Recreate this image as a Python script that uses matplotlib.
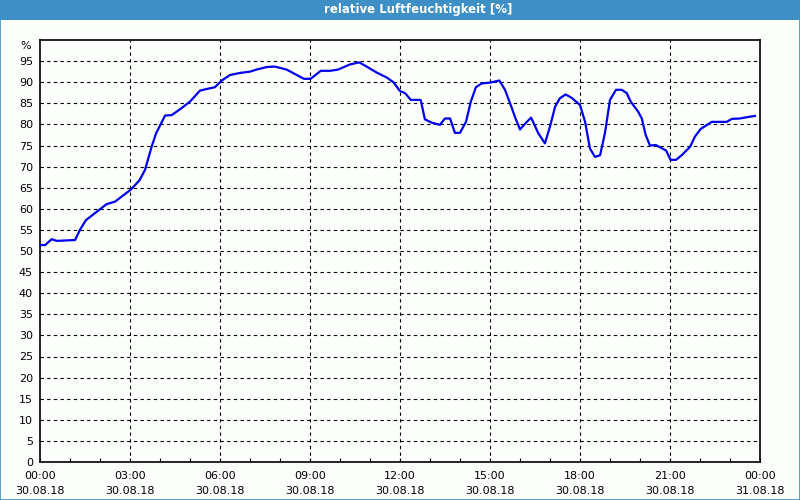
import matplotlib
matplotlib.use("Agg")
import matplotlib.pyplot as plt
from matplotlib.patches import Rectangle
from matplotlib.ticker import MultipleLocator

# hours since 30.08.18 00:00 and relative humidity in %
hours = [0.0, 0.17, 0.39, 0.56, 1.17, 1.33, 1.53, 1.89, 2.22, 2.5, 3.02, 3.31,
         3.5, 3.72, 3.87, 4.17, 4.39, 4.67, 5.0, 5.33, 5.56, 5.83, 6.06, 6.33,
         6.67, 7.0, 7.22, 7.56, 7.83, 8.22, 8.56, 8.8, 9.02, 9.36, 9.67, 9.94,
         10.33, 10.64, 10.89, 11.22, 11.56, 11.78, 12.0, 12.17, 12.36, 12.69,
         12.83, 13.06, 13.33, 13.5, 13.67, 13.83, 14.0, 14.2, 14.36, 14.53,
         14.72, 15.0, 15.31, 15.5, 15.69, 15.83, 16.0, 16.2, 16.37, 16.61,
         16.83, 17.0, 17.17, 17.33, 17.52, 17.72, 18.0, 18.17, 18.33, 18.5,
         18.67, 18.83, 19.0, 19.2, 19.39, 19.56, 19.69, 19.94, 20.06, 20.19,
         20.33, 20.53, 20.87, 21.02, 21.2, 21.39, 21.67, 21.83, 22.02, 22.28,
         22.39, 22.89, 23.06, 23.33, 23.56, 23.83]
humidity = [51.4, 51.4, 52.8, 52.4, 52.6, 55.0, 57.3, 59.3, 61.1, 61.7, 64.5, 66.7,
            69.2, 74.7, 77.9, 82.1, 82.2, 83.6, 85.4, 88.0, 88.4, 88.8, 90.4, 91.7,
            92.2, 92.5, 93.0, 93.6, 93.7, 93.0, 91.7, 90.8, 90.8, 92.7, 92.7, 93.0,
            94.2, 94.7, 93.7, 92.3, 91.1, 90.0, 87.9, 87.4, 85.8, 85.8,
            81.2, 80.4, 79.9, 81.4, 81.4, 78.0, 78.0, 80.6, 85.4, 88.8,
            89.7, 89.9, 90.4, 88.2, 84.6, 81.8, 78.8, 80.4, 81.6, 77.9,
            75.5, 79.5, 84.2, 86.2, 87.1, 86.3, 84.6, 80.6, 74.3, 72.3,
            72.7, 77.9, 85.8, 88.2, 88.2, 87.4, 85.4, 83.0, 81.4, 77.5,
            75.0, 75.1, 73.8, 71.6, 71.6, 72.7, 74.7, 77.1, 78.9, 80.1,
            80.6, 80.6, 81.3, 81.4, 81.7, 82.0]

tick_hours = [0, 3, 6, 9, 12, 15, 18, 21, 24]
tick_labels = ["00:00\n30.08.18", "03:00\n30.08.18", "06:00\n30.08.18",
               "09:00\n30.08.18", "12:00\n30.08.18", "15:00\n30.08.18",
               "18:00\n30.08.18", "21:00\n30.08.18", "00:00\n31.08.18"]
title = "relative Luftfeuchtigkeit [%]"

frame_blue = "#3d8fc6"
bg = "#fcfefc"

fig = plt.figure(figsize=(8, 5), dpi=100, facecolor=bg)

# title bar
fig.patches.append(Rectangle((0, 0.96), 1, 0.04, transform=fig.transFigure,
                             facecolor=frame_blue, edgecolor="none", zorder=0))
# thin frame round the window
fig.patches.append(Rectangle((0.0006, 0.001), 0.9988, 0.998, transform=fig.transFigure,
                             facecolor="none", edgecolor=frame_blue, linewidth=1.2, zorder=0))
fig.text(0.5225, 0.98, title, color="white", ha="center", va="center",
         fontsize=8.5, fontweight="bold", family="DejaVu Sans")

ax = fig.add_axes([0.05, 0.076, 0.90, 0.844])
ax.set_facecolor(bg)

ax.plot(hours, humidity, color="#0000ee", linewidth=1.6, zorder=3)

ax.set_xlim(0, 24)
ax.set_ylim(0, 100)

ax.set_xticks(tick_hours)
ax.set_xticklabels(tick_labels, linespacing=1.6)
ax.xaxis.set_minor_locator(MultipleLocator(1))
ax.set_yticks(range(0, 100, 5))

ax.tick_params(axis="x", which="both", direction="in", length=3, width=0.8,
               labelsize=8, pad=6.5)
ax.tick_params(axis="y", length=0, labelsize=8, pad=5)

for v in range(5, 100, 5):
    ax.axhline(v, color="black", linestyle=(0, (3, 3)), linewidth=0.8, zorder=1)
for h in range(3, 24, 3):
    ax.axvline(h, color="black", linestyle=(0, (3, 3)), linewidth=0.8, zorder=1)

for s in ax.spines.values():
    s.set_linewidth(1.2)
    s.set_color("black")

ax.text(-0.012, 0.986, "%", transform=ax.transAxes, ha="right", va="center", fontsize=8)

fig.savefig("out.png", dpi=100, facecolor=bg)
